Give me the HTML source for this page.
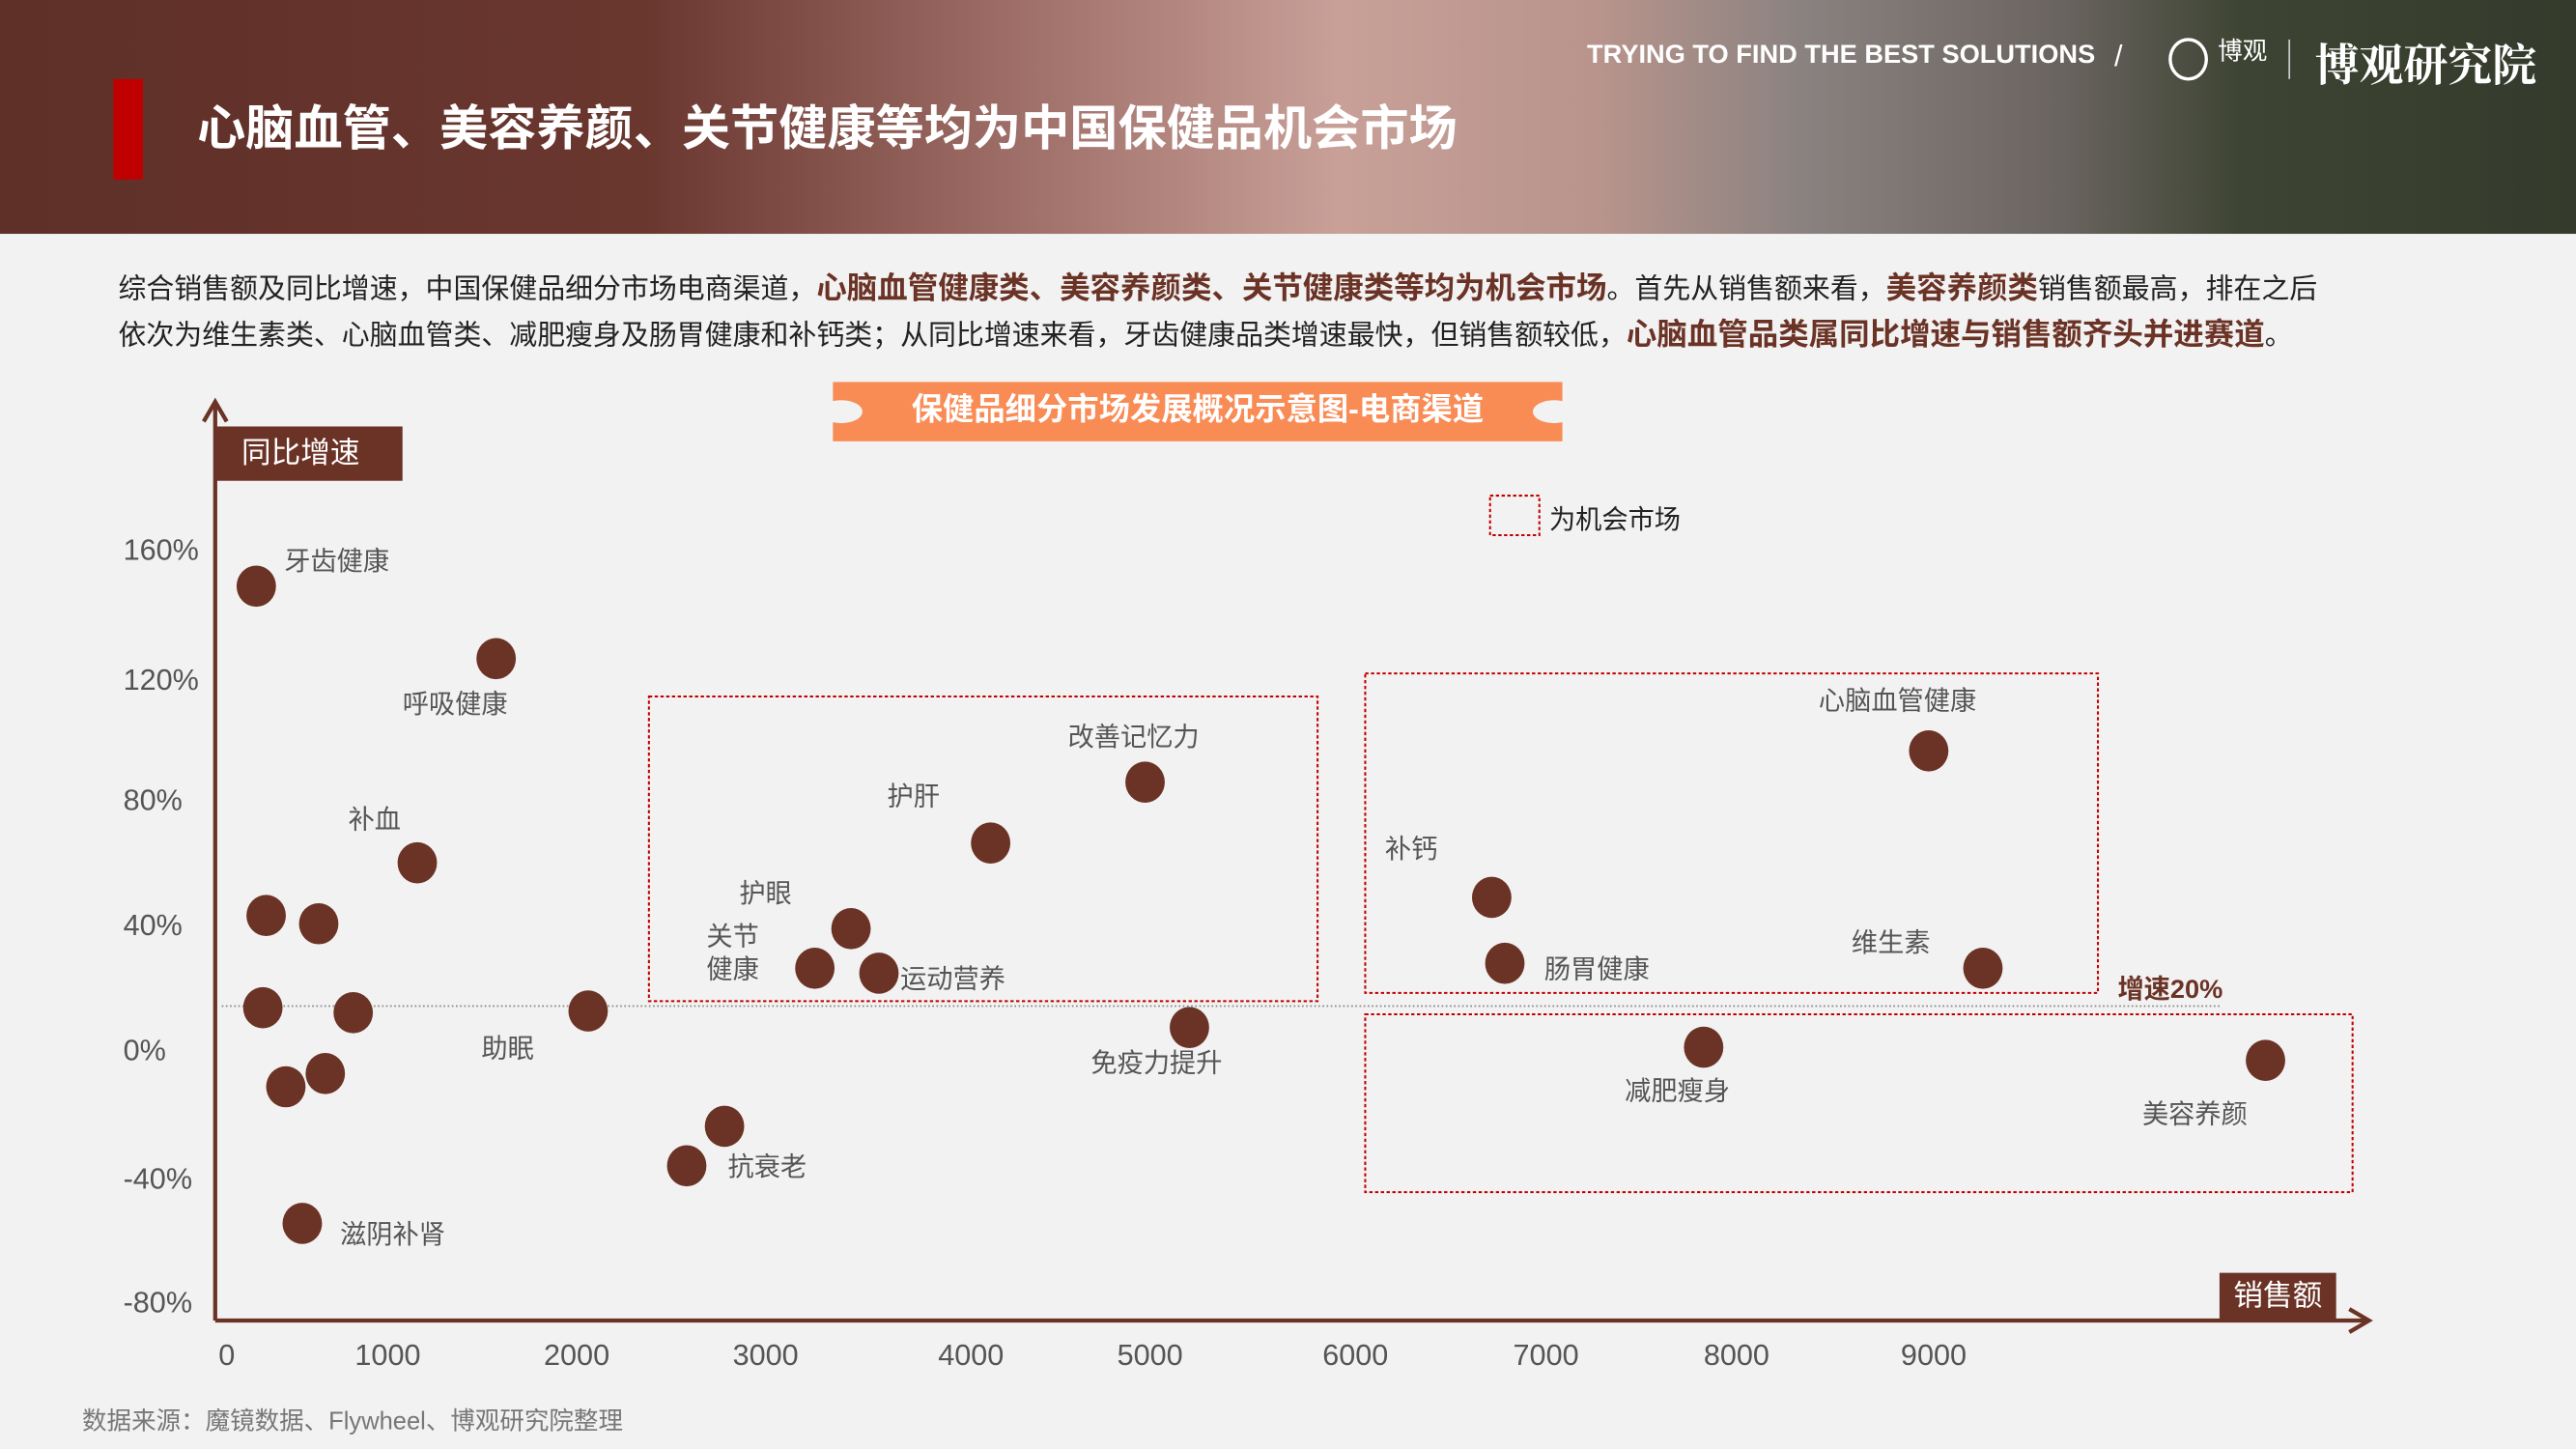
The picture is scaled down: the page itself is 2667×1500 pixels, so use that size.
<!DOCTYPE html>
<html><head><meta charset="utf-8"><style>
html,body{margin:0;padding:0;width:2667px;height:1500px;overflow:hidden;background:#f2f2f2}
#w{position:absolute;left:0;top:0;width:1568px;height:880px;transform-origin:0 0;transform:scale(1.70089,1.70455);font-family:"Liberation Sans","Noto Sans CJK SC",sans-serif;background:#f2f2f2}
.a{position:absolute;white-space:nowrap}
.hl{color:#6b3326;font-weight:bold;font-size:18.5px}
.lb{font-size:16px;color:#555;margin-top:-3px}
.tk{font-size:18px;color:#555}
</style></head><body><div id="w">
<div class="a" style="left:0;top:0;width:1568px;height:142px;background:linear-gradient(90deg,#5e3028 0%,#6a372f 25%,#a0706a 40%,#c8a098 52%,#b8948c 62%,#8a8280 70%,#6a6460 80%,#3e4433 87%,#353b2c 100%)"></div>
<div class="a" style="left:69px;top:48px;width:18px;height:61px;background:#c00000"></div>
<div class="a" style="left:120px;top:55px;font-size:29.5px;font-weight:bold;color:#fff">心脑血管、美容养颜、关节健康等均为中国保健品机会市场</div>
<div class="a" style="left:966px;top:25px;font-size:16px;font-weight:bold;color:#fff">TRYING TO FIND THE BEST SOLUTIONS</div>
<div class="a" style="left:1287px;top:24px;font-size:18px;color:#fff">/</div>
<div class="a" style="left:1320px;top:23px;width:20px;height:22px;border:2px solid #fff;border-radius:50%"></div>
<div class="a" style="left:1350px;top:20px;font-size:15px;color:#fff">博观</div>
<div class="a" style="left:1393px;top:24px;width:1px;height:24px;background:#ccc"></div>
<div class="a" style="left:1409px;top:18px;font-size:27px;font-weight:bold;color:#fff;font-family:'Noto Serif CJK SC',serif">博观研究院</div>

<div class="a" style="left:72px;top:164px;font-size:17px;color:#222;line-height:22px">综合销售额及同比增速，中国保健品细分市场电商渠道，<span class="hl">心脑血管健康类、美容养颜类、关节健康类等均为机会市场</span>。首先从销售额来看，<span class="hl">美容养颜类</span>销售额最高，排在之后</div>
<div class="a" style="left:72px;top:192px;font-size:17px;color:#222;line-height:22px">依次为维生素类、心脑血管类、减肥瘦身及肠胃健康和补钙类；从同比增速来看，牙齿健康品类增速最快，但销售额较低，<span class="hl">心脑血管品类属同比增速与销售额齐头并进赛道</span>。</div>

<div class="a" style="left:507px;top:232px;width:444px;height:36px;background:#f98b55;color:#fff;font-size:19px;font-weight:bold;text-align:center;line-height:36px">保健品细分市场发展概况示意图-电商渠道</div>
<div class="a" style="left:499px;top:243px;width:26px;height:14px;border-radius:50%;background:#f2f2f2"></div>
<div class="a" style="left:933px;top:243px;width:26px;height:14px;border-radius:50%;background:#f2f2f2"></div>

<svg class="a" style="left:0;top:0" width="1568" height="880">
<g stroke="#6b3326" stroke-width="2.5" fill="none">
<line x1="131" y1="802" x2="131" y2="245"/><polyline points="124,256 131,244 138,256"/>
<line x1="131" y1="802" x2="1440" y2="802"/><polyline points="1430,795 1442,802 1430,809"/>
</g>
<line x1="135" y1="611" x2="1352" y2="611" stroke="#888" stroke-width="1" stroke-dasharray="1,1.5"/>
<g fill="none" stroke="#c00000" stroke-width="1.2" stroke-dasharray="2,1.5">
<rect x="395" y="423" width="407" height="185"/>
<rect x="831" y="409" width="446" height="194"/>
<rect x="831" y="616" width="601" height="108"/>
<rect x="907" y="301" width="30" height="24"/>
</g>
<g fill="#6b3326">
<ellipse cx="156" cy="356" rx="12" ry="12.5"/><ellipse cx="302" cy="400" rx="12" ry="12.5"/>
<ellipse cx="254" cy="524" rx="12" ry="12.5"/><ellipse cx="162" cy="556" rx="12" ry="12.5"/>
<ellipse cx="194" cy="561" rx="12" ry="12.5"/><ellipse cx="160" cy="612" rx="12" ry="12.5"/>
<ellipse cx="215" cy="615" rx="12" ry="12.5"/><ellipse cx="174" cy="660" rx="12" ry="12.5"/>
<ellipse cx="198" cy="652" rx="12" ry="12.5"/><ellipse cx="358" cy="614" rx="12" ry="12.5"/>
<ellipse cx="441" cy="684" rx="12" ry="12.5"/><ellipse cx="418" cy="708" rx="12" ry="12.5"/>
<ellipse cx="184" cy="743" rx="12" ry="12.5"/><ellipse cx="518" cy="564" rx="12" ry="12.5"/>
<ellipse cx="496" cy="588" rx="12" ry="12.5"/><ellipse cx="535" cy="591" rx="12" ry="12.5"/>
<ellipse cx="603" cy="512" rx="12" ry="12.5"/><ellipse cx="697" cy="475" rx="12" ry="12.5"/>
<ellipse cx="724" cy="624" rx="12" ry="12.5"/><ellipse cx="908" cy="545" rx="12" ry="12.5"/>
<ellipse cx="916" cy="585" rx="12" ry="12.5"/><ellipse cx="1174" cy="456" rx="12" ry="12.5"/>
<ellipse cx="1207" cy="588" rx="12" ry="12.5"/><ellipse cx="1037" cy="636" rx="12" ry="12.5"/>
<ellipse cx="1379" cy="644" rx="12" ry="12.5"/>
</g>
</svg>

<div class="a" style="left:131px;top:259px;width:114px;height:33px;background:#6b3326;color:#fff;font-size:18px;line-height:33px;text-indent:16px">同比增速</div>
<div class="a" style="left:1351px;top:773px;width:71px;height:29px;background:#6b3326;color:#fff;font-size:18px;line-height:29px;text-align:center">销售额</div>
<div class="a" style="left:943px;top:302px;font-size:16px;color:#222">为机会市场</div>
<div class="a" style="left:1289px;top:587px;font-size:16px;font-weight:bold;color:#6b3326">增速20%</div>

<div class="a tk" style="left:75px;top:324px">160%</div>
<div class="a tk" style="left:75px;top:403px">120%</div>
<div class="a tk" style="left:75px;top:476px">80%</div>
<div class="a tk" style="left:75px;top:552px">40%</div>
<div class="a tk" style="left:75px;top:628px">0%</div>
<div class="a tk" style="left:75px;top:706px">-40%</div>
<div class="a tk" style="left:75px;top:781px">-80%</div>

<div class="a tk" style="left:133px;top:813px">0</div>
<div class="a tk" style="left:216px;top:813px">1000</div>
<div class="a tk" style="left:331px;top:813px">2000</div>
<div class="a tk" style="left:446px;top:813px">3000</div>
<div class="a tk" style="left:571px;top:813px">4000</div>
<div class="a tk" style="left:680px;top:813px">5000</div>
<div class="a tk" style="left:805px;top:813px">6000</div>
<div class="a tk" style="left:921px;top:813px">7000</div>
<div class="a tk" style="left:1037px;top:813px">8000</div>
<div class="a tk" style="left:1157px;top:813px">9000</div>

<div class="a lb" style="left:173px;top:330px">牙齿健康</div>
<div class="a lb" style="left:245px;top:417px">呼吸健康</div>
<div class="a lb" style="left:212px;top:487px">补血</div>
<div class="a lb" style="left:293px;top:626px">助眠</div>
<div class="a lb" style="left:443px;top:698px">抗衰老</div>
<div class="a lb" style="left:207px;top:739px">滋阴补肾</div>
<div class="a lb" style="left:450px;top:532px">护眼</div>
<div class="a lb" style="left:430px;top:563px;line-height:20px;white-space:normal;width:40px">关节<br>健康</div>
<div class="a lb" style="left:548px;top:584px">运动营养</div>
<div class="a lb" style="left:540px;top:473px">护肝</div>
<div class="a lb" style="left:650px;top:437px">改善记忆力</div>
<div class="a lb" style="left:664px;top:635px">免疫力提升</div>
<div class="a lb" style="left:843px;top:505px">补钙</div>
<div class="a lb" style="left:940px;top:578px">肠胃健康</div>
<div class="a lb" style="left:1107px;top:415px">心脑血管健康</div>
<div class="a lb" style="left:1127px;top:562px">维生素</div>
<div class="a lb" style="left:989px;top:652px">减肥瘦身</div>
<div class="a lb" style="left:1304px;top:666px">美容养颜</div>

<div class="a" style="left:50px;top:852px;font-size:15px;color:#777">数据来源：魔镜数据、Flywheel、博观研究院整理</div>
</div></body></html>
